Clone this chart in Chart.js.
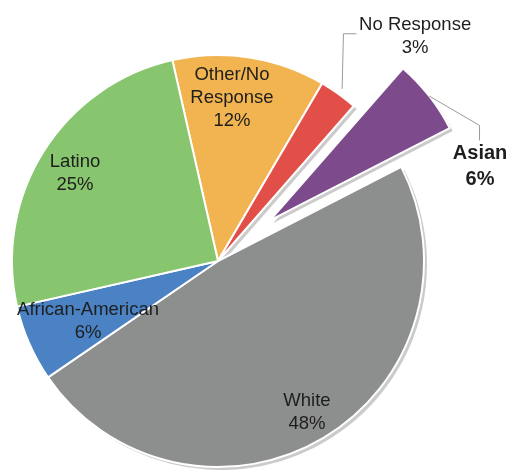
<!DOCTYPE html>
<html>
<head>
<meta charset="utf-8">
<script src="https://cdn.jsdelivr.net/npm/chart.js@4.4.0/dist/chart.umd.min.js"></script>
<style>
    html, body { margin: 0; padding: 0; background: #fff; }
</style>
</head>
<body>
<canvas id="pieChart" width="509" height="470"></canvas>
<script>
// Slices, clockwise from the top
const categories = ['Other/No Response', 'No Response', 'Asian', 'White', 'African-American', 'Latino'];
const shares = [12, 3, 6, 48, 6, 25];
const sliceColors = ['#F2B450', '#E24E48', '#7D4A8C', '#8D8E8E', '#4A82C4', '#87C56E'];

// Where labels go: angle clockwise from 12 o'clock (deg), distance as share of the radius
const labelSpots = [
    { angle: 4.9, dist: 0.794, lines: ['Other/No', 'Response'] },
    { angle: 41.3, dist: 1.45, leader: { from: 1.03, elbow: [28.9, 1.26], tail: [13, 0] } },
    { angle: 70.1, dist: 1.353, bold: true, leader: { from: 1.0, elbow: [62.6, 1.43], tail: [0, 15] } },
    { angle: 149.5, dist: 0.851 },
    { angle: 245.2, dist: 0.695 },
    { angle: 301.6, dist: 0.815 }
];

// Pulled-out slice (px along its middle)
const explodeBy = { 'Asian': 66 };

function polar(cx, cy, deg, r) {
    const a = (deg - 90) * Math.PI / 180;
    return [cx + Math.cos(a) * r, cy + Math.sin(a) * r];
}

// Move the exploded slice out after the layout is done
const explodePlugin = {
    id: 'explode',
    afterDatasetsUpdate(chart) {
        const arcs = chart.getDatasetMeta(0).data;
        arcs.forEach((arc, i) => {
            const d = explodeBy[categories[i]];
            if (!d) return;
            const mid = (arc.startAngle + arc.endAngle) / 2;
            arc.x += Math.cos(mid) * d;
            arc.y += Math.sin(mid) * d;
            arc.outerRadius -= 4;
        });
    }
};

// Soft grey drop shadow under the slices + text labels on top
const labelPlugin = {
    id: 'sliceLabels',
    beforeDatasetsDraw(chart) {
        const ctx = chart.ctx;
        const arcs = chart.getDatasetMeta(0).data;
        ctx.save();
        ctx.fillStyle = '#cbcbcb';
        arcs.forEach(arc => {
            const cx = arc.x + 3, cy = arc.y + 3;
            ctx.beginPath();
            ctx.moveTo(cx, cy);
            ctx.arc(cx, cy, arc.outerRadius, arc.startAngle, arc.endAngle);
            ctx.closePath();
            ctx.fill();
        });
        ctx.restore();
    },
    afterDatasetsDraw(chart) {
        const ctx = chart.ctx;
        const area = chart.chartArea;
        const cx = (area.left + area.right) / 2;
        const cy = (area.top + area.bottom) / 2;
        const arcs = chart.getDatasetMeta(0).data;
        const R = chart.getDatasetMeta(0).controller.outerRadius;

        ctx.save();
        arcs.forEach((arc, i) => {
            const spot = labelSpots[i];

            if (spot.leader) {
                const mid = (arc.startAngle + arc.endAngle) / 2;
                const r0 = arc.outerRadius * spot.leader.from;
                const start = [arc.x + Math.cos(mid) * r0, arc.y + Math.sin(mid) * r0];
                const elbow = polar(cx, cy, spot.leader.elbow[0], R * spot.leader.elbow[1]);
                ctx.strokeStyle = '#9a9a9a';
                ctx.lineWidth = 1;
                ctx.beginPath();
                ctx.moveTo(start[0], start[1]);
                ctx.lineTo(elbow[0], elbow[1]);
                ctx.lineTo(elbow[0] + spot.leader.tail[0], elbow[1] + spot.leader.tail[1]);
                ctx.stroke();
            }

            const lines = (spot.lines || [categories[i]]).concat([shares[i] + '%']);
            const lh = spot.bold ? 26 : 23;
            const [lx, ly] = polar(cx, cy, spot.angle, R * spot.dist);
            ctx.font = spot.bold ? 'bold 20px "Liberation Sans", Arial, sans-serif'
                                 : '18.5px "Liberation Sans", Arial, sans-serif';
            ctx.fillStyle = '#1e1e1e';
            ctx.textAlign = 'center';
            ctx.textBaseline = 'middle';
            lines.forEach((t, k) => {
                ctx.fillText(t, lx, ly + (k - (lines.length - 1) / 2) * lh);
            });
        });
        ctx.restore();
    }
};

new Chart(document.getElementById('pieChart').getContext('2d'), {
    type: 'pie',
    data: {
        labels: categories,
        datasets: [{
            data: shares,
            backgroundColor: sliceColors,
            borderColor: '#ffffff',
            borderWidth: 2
        }]
    },
    options: {
        responsive: false,
        animation: false,
        rotation: -12.8,
        radius: 206,
        layout: { padding: { left: 0, right: 73, top: 52, bottom: 0 } },
        plugins: {
            legend: { display: false },
            tooltip: { enabled: false }
        }
    },
    plugins: [explodePlugin, labelPlugin]
});
</script>
</body>
</html>
